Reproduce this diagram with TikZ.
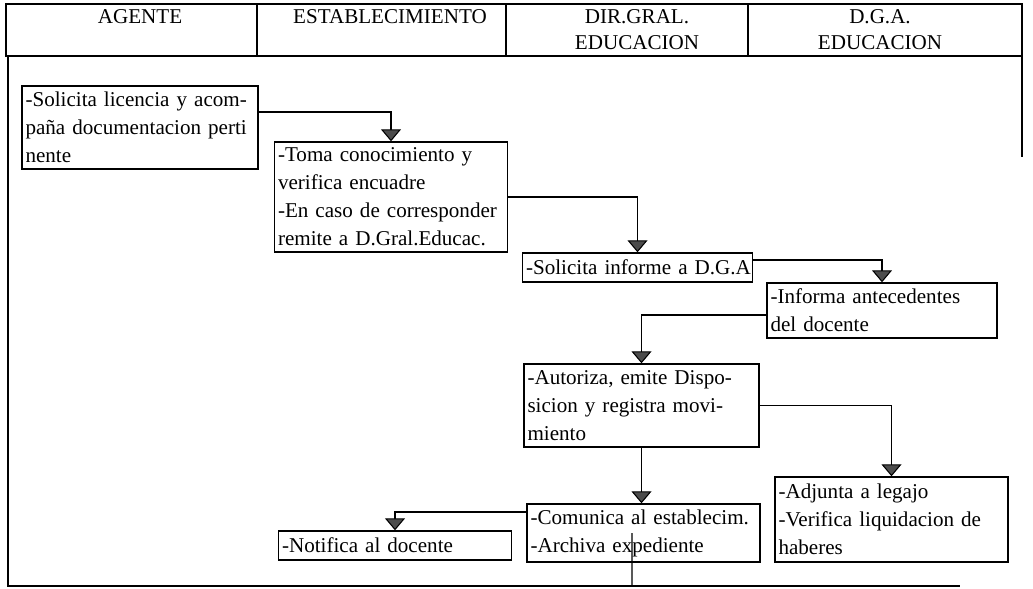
\documentclass[tikz,border=0pt]{standalone}
\usepackage{fontspec}
\setmainfont{Liberation Serif}
\usetikzlibrary{arrows.meta}

\begin{document}
\begin{tikzpicture}[x=0.02cm, y=-0.02cm,
	caja/.style={draw, line width=0.8pt, align=left, inner xsep=2pt, inner ysep=0pt, text width=4.52cm, minimum height=#1, font=\fontsize{12}{15.9}\selectfont},
	caja/.default=0.58cm,
	flecha/.style={line width=0.6pt, -{Triangle[width=0.4cm, length=0.24cm, fill=black!70]}},
	titulo/.style={align=center, font=\fontsize{12}{14.7}\selectfont}]
	\useasboundingbox (0,0) rectangle (1033,588);
	
	\draw[line width=0.8pt] (6,4) rectangle (1022,56);
	\foreach \x in {257,506,748}
		\draw[line width=0.8pt] (\x,4) -- (\x,56);
	\draw[line width=0.8pt] (8,56) -- (8,586) -- (960,586);
	\draw[line width=0.8pt] (1022,56) -- (1022,157);
	
	\node[titulo] (h1) at (140,17) {AGENTE};
	\node[titulo] (h2) at (390,17) {ESTABLECIMIENTO};
	\node[titulo] (h3) at (637,30) {DIR.GRAL.\\EDUCACION};
	\node[titulo] (h4) at (880,30) {D.G.A.\\EDUCACION};
	
	\node[caja=1.66cm, text width=4.58cm] (sol) at (140,127.5) {-Solicita licencia y acom-\\paña documentacion perti\\nente};
	\node[caja=2.2cm] (toma) at (391,197) {-Toma conocimiento y\\verifica encuadre\\-En caso de corresponder\\remite a D.Gral.Educac.};
	\node[caja, text width=4.46cm] (inf) at (637.5,267.5) {\mbox{-Solicita informe a D.G.A}};
	\node[caja=1.1cm, text width=4.46cm] (ant) at (882,310.5) {-Informa antecedentes\\del docente};
	\node[caja=1.66cm, text width=4.56cm] (aut) at (641.5,405.5) {-Autoriza, emite Dispo-\\sicion y registra movi-\\miento};
	\node[caja=1.7cm] (adj) at (891.5,519.5) {-Adjunta a legajo\\-Verifica liquidacion de\\haberes};
	\node[caja=1.16cm] (com) at (643.5,533) {-Comunica al establecim.\\-Archiva expediente};
	\node[caja] (noti) at (395,545.5) {-Notifica al docente};
	\coordinate (fin) at (632,586);
	
	\draw[flecha] ([yshift=0.31cm]sol.east) -| (toma.north);
	\draw[flecha] (toma.east) -| (inf.north);
	\draw[flecha] ([yshift=0.15cm]inf.east) -| (ant.north);
	\draw[flecha] ([yshift=-0.09cm]ant.west) -| (aut.north);
	\draw[flecha] (aut.east) -| (adj.north);
	\draw[flecha] (aut.south) -- (aut.south |- com.north);
	\draw[flecha] ([yshift=0.42cm]com.west) -| (noti.north);
	\draw[line width=0.6pt] ([xshift=-0.23cm]com.center) -- (fin);
\end{tikzpicture}
\end{document}
